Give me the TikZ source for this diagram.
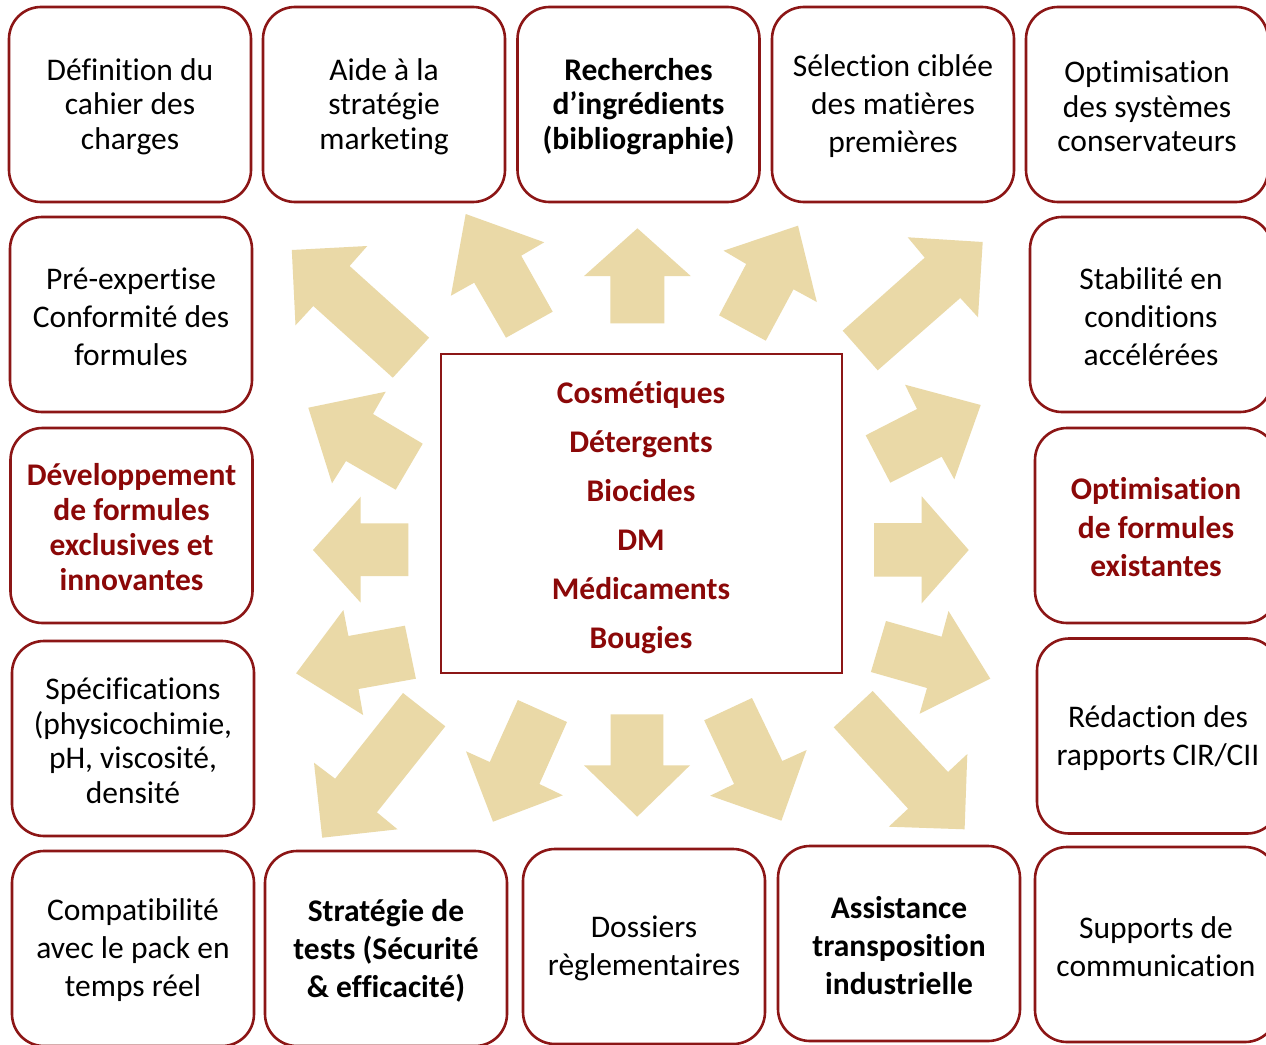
\documentclass[tikz,border=0pt]{standalone}
\usepackage{fontspec}
\setmainfont[RawFeature={-liga;-clig;-dlig;-calt}]{Carlito}
\definecolor{boxred}{RGB}{140,22,22}
\definecolor{txtred}{RGB}{139,8,8}
\definecolor{arrowfill}{RGB}{234,217,167}
\newcommand\tp{\rule{0pt}{26pt}}
\begin{document}
\begin{tikzpicture}[x=1pt,y=-1pt,
  box/.style={draw=boxred, line width=2.6pt, rounded corners=32pt, minimum width=242pt, minimum height=195pt, inner sep=0pt, align=center, fill=white},
  nA/.style={font=\fontsize{31.5}{34.5}\selectfont},
  nB/.style={font=\fontsize{31.5}{38}\selectfont},
  bA/.style={font=\fontsize{31.5}{34.5}\selectfont\bfseries},
  bB/.style={font=\fontsize{31.5}{38}\selectfont\bfseries},
  rA/.style={font=\fontsize{31.5}{35}\selectfont\bfseries, text=txtred},
  rB/.style={font=\fontsize{31.5}{38.5}\selectfont\bfseries, text=txtred},
  blockarrow/.style={fill=arrowfill}]
\useasboundingbox (0,0) rectangle (1266,1044);
\clip (0,0) rectangle (1266,1044);
\fill[white] (0,0) rectangle (1266,1044);

% block arrows
\fill[blockarrow] (291.8,250) -- (367.3,246) -- (349.6,266) -- (429.1,337.7) -- (392.8,377.7) -- (313.3,306) -- (295.5,325.3) -- cycle;
\fill[blockarrow] (465.7,214) -- (544.2,242.3) -- (521.2,255.7) -- (552.7,311.7) -- (506,337.7) -- (474.2,282.7) -- (450.9,295.7) -- cycle;
\fill[blockarrow] (637.4,228.3) -- (690.7,276) -- (664.4,276) -- (664.4,323.3) -- (610.4,323.3) -- (610.4,276) -- (584.1,276) -- cycle;
\fill[blockarrow] (798,225.7) -- (816.8,302) -- (793.5,289.3) -- (765.8,340.7) -- (719.1,315.3) -- (746.2,264) -- (723.6,250.7) -- cycle;
\fill[blockarrow] (982.7,242) -- (978,317.3) -- (960.3,298) -- (877.7,370.3) -- (842.7,330.7) -- (924.7,257.7) -- (907.7,237.3) -- cycle;
\fill[blockarrow] (980.7,405) -- (954.3,479.3) -- (941.7,456.7) -- (890.3,482.7) -- (865.7,435.3) -- (917,409) -- (905,384.7) -- cycle;
\fill[blockarrow] (968.7,550) -- (921.7,603.3) -- (921.7,576.7) -- (874,576.7) -- (874,523) -- (921.7,523) -- (921.7,496.3) -- cycle;
\fill[blockarrow] (990.3,678.7) -- (919.6,713.7) -- (927,688) -- (870.9,672) -- (886,621) -- (941.6,636.7) -- (948.5,611) -- cycle;
\fill[blockarrow] (964.6,829.3) -- (888.8,826.7) -- (908.1,808.7) -- (833.7,727.3) -- (872.7,691) -- (948,772) -- (967.3,754) -- cycle;
\fill[blockarrow] (781.4,820.7) -- (710.2,795.7) -- (734.1,784) -- (704.2,720.3) -- (752,698) -- (782.3,761) -- (806.6,750) -- cycle;
\fill[blockarrow] (637.2,816.7) -- (584,765.3) -- (610.6,765.3) -- (610.6,714.3) -- (663.4,714.3) -- (663.4,765.3) -- (690,765.3) -- cycle;
\fill[blockarrow] (493,821.7) -- (466,751.3) -- (489.8,762) -- (517.8,700) -- (567,722) -- (539.4,784) -- (562.8,795.3) -- cycle;
\fill[blockarrow] (322.2,837.7) -- (314,762.7) -- (335.1,778.7) -- (403,693) -- (445.3,726.3) -- (376.9,812.3) -- (397.5,829.3) -- cycle;
\fill[blockarrow] (296.1,673.3) -- (343.4,610) -- (348.4,636) -- (404.9,625.7) -- (415.9,678.7) -- (358.5,689) -- (363.1,715) -- cycle;
\fill[blockarrow] (313,550) -- (360.7,496.7) -- (360.7,523.3) -- (408.3,523.3) -- (408.3,576) -- (360.7,576) -- (360.7,602.7) -- cycle;
\fill[blockarrow] (308.3,407.7) -- (385.7,391.7) -- (373,414) -- (422.7,443.7) -- (395.7,489.7) -- (346,461) -- (332,483.3) -- cycle;

% centre box
\node[draw=boxred, line width=2.8pt, minimum width=401pt, minimum height=319pt, inner sep=0pt] (centre) at (641.5,513.5) {};
\node[font=\fontsize{31.5}{49}\selectfont\bfseries, text=txtred, align=center] (centretext) at (641,517.5)
  {Cosmétiques\\Détergents\\Biocides\\DM\\Médicaments\\Bougies};

% top row
\node[box, nA] (b1) at (130,104.5) {\tp Définition du\\cahier des\\charges};
\node[box, nA] (b2) at (384,104.5) {\tp Aide à la\\stratégie\\marketing};
\node[box, bA] (b3) at (638.5,104.5) {\tp Recherches\\d’ingrédients\\(bibliographie)};
\node[box, nB] (b4) at (893,104.5) {\tp Sélection ciblée\\des matières\\premières};
\node[box, nA] (b5) at (1147,104.5) {\tp Optimisation\\des systèmes\\conservateurs};

% left column
\node[box, nB] (l2) at (131,314.5) {\tp Pré-expertise\\Conformité des\\formules};
\node[box, rA] (l3) at (131.5,525.5) {\tp Développement\\de formules\\exclusives et\\innovantes};
\node[box, nA] (l4) at (133,738.5) {\tp Spécifications\\(physicochimie,\\pH, viscosité,\\densité};
\node[box, nB] (l5) at (133,948.5) {\tp Compatibilité\\avec le pack en\\temps réel};

% bottom row
\node[box, bB] (m2) at (386,948.5) {\tp Stratégie de\\tests (Sécurité\\\& efficacité)};
\node[box, nB] (m3) at (644,946.5) {\tp Dossiers\\règlementaires};
\node[box, bB] (m4) at (899,943.5) {\tp Assistance\\transposition\\industrielle};
\node[box, nB] (r5) at (1156,944.5) {\tp Supports de\\communication};

% right column
\node[box, nB] (r2) at (1151,314.5) {\tp Stabilité en\\conditions\\accélérées};
\node[box, rB] (r3) at (1156,525.5) {\tp Optimisation\\de formules\\existantes};
\node[box, nB] (r4) at (1158,736) {\tp Rédaction des\\rapports CIR/CII};
\end{tikzpicture}
\end{document}
